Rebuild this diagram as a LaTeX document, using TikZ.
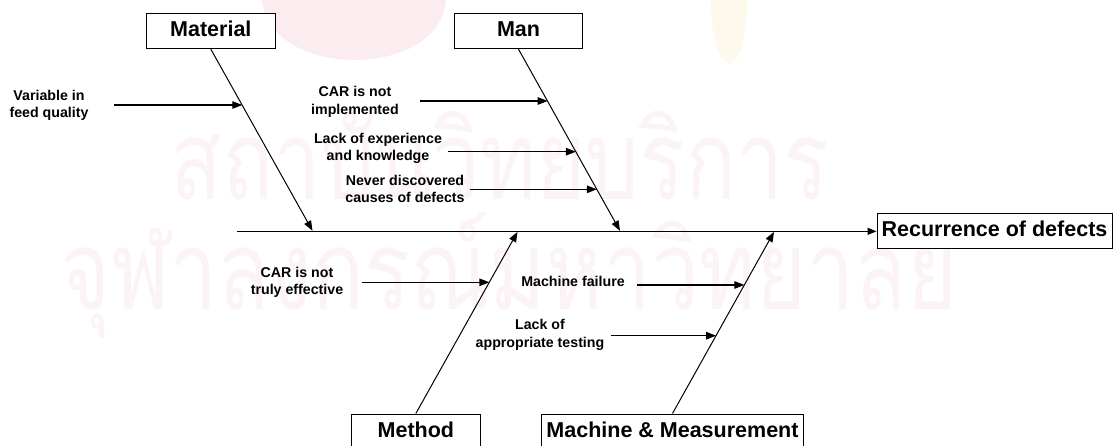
\documentclass[tikz,border=0pt]{standalone}
\usepackage{fontspec}
\setmainfont{Liberation Sans}
\newfontfamily\thaifont[Script=Thai]{Loma}
\usetikzlibrary{arrows.meta}
\definecolor{wmpink}{RGB}{252,243,249}
\definecolor{wmrose}{RGB}{251,236,239}
\definecolor{wmgold}{RGB}{253,249,236}
\begin{document}
\begin{tikzpicture}[x=1pt,y=-1pt,
  cat/.style={draw=black, line width=1pt, fill=white,
    font=\fontsize{21.5}{24}\selectfont\bfseries, inner sep=0pt,
    minimum height=34.7pt, text height=15.7pt, text depth=4.4pt},
  cause/.style={font=\fontsize{14.2}{17.5}\selectfont\bfseries,
    align=center, inner sep=0pt},
  bone/.style={line width=1pt, -{Triangle[length=10pt,width=7.5pt]}},
  ray/.style={line width=1.1pt, -{Triangle[length=10pt,width=7.5pt]}},
  spine/.style={line width=1.4pt, -{Triangle[length=9pt,width=7pt]}},
  watermark/.style={text=wmpink, inner sep=0pt, anchor=base}
]
\useasboundingbox (0,0) rectangle (1117,446);
\clip (0,0) rectangle (1117,446);

% faint background emblem and institute name
\fill[wmrose] (262,0) .. controls (270,80) and (440,80) .. (446,0) -- cycle;
\fill[wmgold] (711,0) .. controls (711,85) and (747,85) .. (747,0) -- cycle;
\node[watermark] (wmA) at (500,200)
  {\scalebox{0.77}[1]{\fontsize{110}{110}\selectfont\thaifont สถาบันวิทยบริการ}};
\node[watermark] (wmB) at (509,310)
  {\scalebox{0.78}[1]{\fontsize{110}{110}\selectfont\thaifont จุฬาลงกรณ์มหาวิทยาลัย}};

% category boxes and the effect
\node[cat, minimum width=128.3pt] (material) at (210.85,31.35) {Material};
\node[cat, minimum width=128.4pt] (man) at (518.5,31.35) {Man};
\node[cat, minimum width=128.3pt] (method) at (415.85,431.35) {Method};
\node[cat, minimum width=261.6pt] (machine) at (672.5,431.35) {Machine \& Measurement};
\node[cat, minimum width=235pt] (effect) at (994.5,231.35) {Recurrence of defects};

% spine
\coordinate (tail) at (236.7,231.35);
\draw[spine] (tail) -- (effect.west);

% main bones
\coordinate (matTip) at (312.5,230.8);
\coordinate (manTip) at (620,230.8);
\coordinate (metTip) at (517.5,231.9);
\coordinate (macTip) at (774,231.9);
\draw[bone] (material.south) -- (matTip);
\draw[bone] (man.south) -- (manTip);
\draw[bone] (method.north) -- (metTip);
\draw[bone] (machine.north) -- (macTip);

% causes
\node[cause] (c1) at (49,105.4) {Variable in\\feed quality};
\node[cause] (c2) at (355,101.8) {CAR is not\\implemented};
\node[cause] (c3) at (378,148.4) {Lack of experience\\and knowledge};
\node[cause] (c4) at (405,188.7) {Never discovered\\causes of defects};
\node[cause] (c5) at (297,282.4) {CAR is not\\truly effective};
\node[cause] (c6) at (573,281.6) {Machine failure};
\node[cause] (c7) at (540,335.1) {Lack of\\appropriate testing};

% cause arrows: free start, head on the bone
\coordinate (s1) at (114.3,105);   \coordinate (e1) at (242.3,105);
\coordinate (s2) at (419.6,101);   \coordinate (e2) at (547.65,101);
\coordinate (s3) at (448.2,151.7); \coordinate (e3) at (575.9,151.7);
\coordinate (s4) at (469.6,189.3); \coordinate (e4) at (596.9,189.3);
\coordinate (s5) at (361.8,282.3); \coordinate (e5) at (489.4,282.3);
\coordinate (s6) at (636.8,285);   \coordinate (e6) at (744.4,285);
\coordinate (s7) at (610.8,335.7); \coordinate (e7) at (716.1,335.7);
\foreach \i in {1,...,7} { \draw[ray] (s\i) -- (e\i); }
\end{tikzpicture}
\end{document}
